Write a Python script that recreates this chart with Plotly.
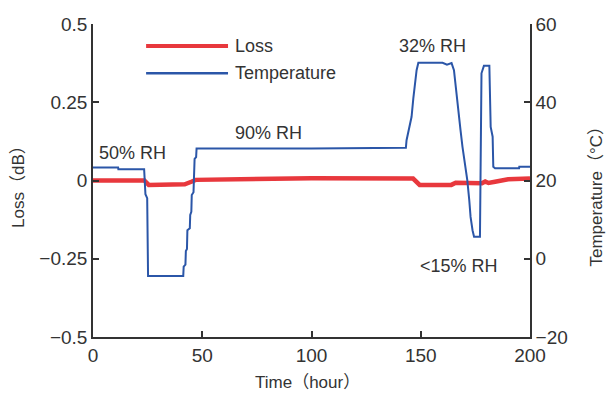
import plotly.graph_objects as go

# ---- data ----
temp_time = [0, 11.5, 11.6, 23.4, 24.0, 24.8, 25.2, 41.3, 41.5, 42.3, 42.5, 43.0, 43.2, 44.3, 44.5,
             45.0, 45.2, 46.0, 46.2, 46.5, 47.2, 47.4, 100, 143.2, 143.5, 144.7, 145.8, 146.6,
             147.4, 148.1, 148.9, 160, 162, 164.1, 165.2, 166.1, 167.2, 168.2, 169.1, 170.2,
             171.3, 172.2, 172.8, 173.7, 174.4, 177.1, 177.4, 177.8, 178.9, 181.4, 182.0,
             182.9, 183.2, 184.0, 195, 195.1, 200]
temp_vals = [23.3, 23.3, 22.9, 22.9, 16.5, 15.5, -4.4, -4.4, -2.0, -1.5, 2.0, 2.5, 7.3, 7.8, 11.2,
             12.0, 16.3, 17.0, 20.5, 25.5, 26.0, 28.2, 28.2, 28.4, 30.3, 33.7, 36.3, 41.0,
             45.7, 48.2, 50.1, 50.1, 49.6, 50.0, 48.2, 43.1, 38.0, 32.9, 28.6, 24.4,
             20.1, 15.0, 10.7, 7.3, 5.6, 5.6, 21.8, 47.4, 49.3, 49.3, 33.7,
             31.2, 23.5, 23.1, 23.1, 23.5, 23.5]

loss_time = [0, 23.5, 25.5, 40, 42, 45, 47, 100, 145, 146.5, 149.5, 164, 166, 170, 175,
             178, 179.5, 181, 184, 190, 200]
loss_vals = [0.0, 0.0, -0.014, -0.014, -0.012, -0.004, 0.002, 0.007, 0.009, 0.006, -0.014,
             -0.014, -0.007, -0.008, -0.008, -0.009, -0.003, -0.008, -0.004, 0.004, 0.006]

x_ticks = [0, 50, 100, 150, 200]
loss_ticks = [-0.5, -0.25, 0, 0.25, 0.5]
loss_tick_text = ["\u22120.5", "\u22120.25", "0", "0.25", "0.5"]
temp_ticks = [-20, 0, 20, 40, 60]
temp_tick_text = ["\u221220", "0", "20", "40", "60"]

RED = "#e8383d"
BLUE = "#2b56a8"
TXT = "#333333"
FONT = "Liberation Sans, Arial, Noto Sans CJK SC"

fig = go.Figure()
fig.add_trace(go.Scatter(x=loss_time, y=loss_vals, mode="lines", name="Loss",
                         line=dict(color=RED, width=4.5), yaxis="y"))
fig.add_trace(go.Scatter(x=temp_time, y=temp_vals, mode="lines", name="Temperature",
                         line=dict(color=BLUE, width=2), yaxis="y2"))

axis_common = dict(showline=True, linecolor=TXT, linewidth=1.5, ticks="inside", ticklen=6,
                   tickcolor=TXT, tickwidth=1.5, showgrid=False, zeroline=False,
                   tickfont=dict(family=FONT, size=19, color=TXT))

fig.update_layout(
    width=608, height=394,
    margin=dict(l=93, r=78, t=24, b=57),
    paper_bgcolor="white", plot_bgcolor="white",
    showlegend=False,
    xaxis=dict(range=[0, 200], tickvals=x_ticks, **axis_common),
    yaxis=dict(range=[-0.5, 0.5], tickvals=loss_ticks, ticktext=loss_tick_text, **axis_common),
    yaxis2=dict(range=[-20, 60], tickvals=temp_ticks, ticktext=temp_tick_text,
                overlaying="y", side="right", **axis_common),
)

# legend drawn as lines + text
fig.add_shape(type="line", xref="x", yref="y", x0=24.3, x1=61.8, y0=0.430, y1=0.430,
              line=dict(color=RED, width=4))
fig.add_shape(type="line", xref="x", yref="y", x0=24.3, x1=61.8, y0=0.343, y1=0.343,
              line=dict(color=BLUE, width=2.5))

def txt(x, y, s, xref="x", yref="y", angle=0, xanchor="left", size=18):
    fig.add_annotation(x=x, y=y, xref=xref, yref=yref, text=s, showarrow=False,
                       xanchor=xanchor, yanchor="middle", textangle=angle,
                       font=dict(family=FONT, size=size, color=TXT))

txt(64.0, 0.430, "Loss")
txt(64.0, 0.343, "Temperature")
txt(1.8, 0.088, "50% RH")
txt(64.0, 0.152, "90% RH")
txt(139.0, 0.430, "32% RH")
txt(148.7, -0.273, "&lt;15% RH")

txt(-0.172, 0.495, "Loss（dB）", xref="paper", yref="paper", angle=-90, xanchor="center", size=17)
txt(1.152, 0.463, "Temperature（°C）", xref="paper", yref="paper", angle=-90, xanchor="center", size=17)
txt(0.49, -0.144, "Time（hour）", xref="paper", yref="paper", xanchor="center", size=17)

fig.write_html("out.html")
